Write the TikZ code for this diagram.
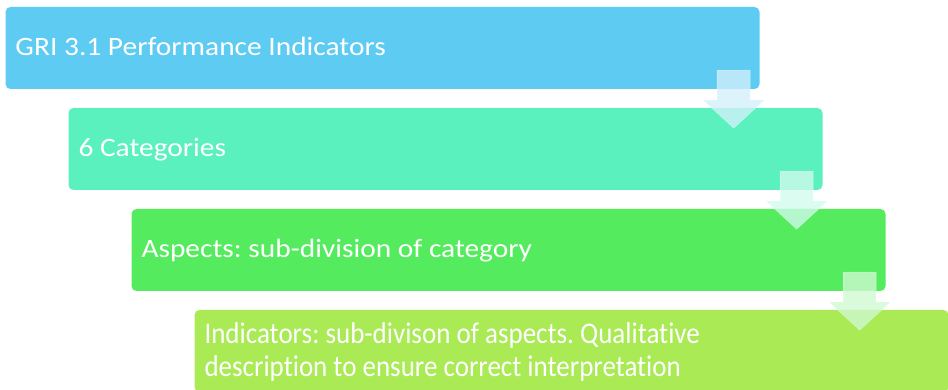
\documentclass[tikz,border=0pt]{standalone}
\usepackage{fontspec}
\setmainfont{Carlito}[Ligatures=NoCommon]
\newfontfamily\stagefont{Carlito}[Ligatures=NoCommon, FakeStretch=1.11]
\newfontfamily\indfont{Carlito}[Ligatures=NoCommon, FakeStretch=0.9]
\usepackage{xcolor}
\usepackage{tikz}
\usetikzlibrary{positioning}

\definecolor{griblue}{RGB}{93,203,242}
\definecolor{catmint}{RGB}{91,241,190}
\definecolor{aspgreen}{RGB}{85,235,95}
\definecolor{indlime}{RGB}{169,234,85}

\begin{document}
\frenchspacing
\begin{tikzpicture}[
  x=1pt, y=1pt,
  stage/.style={rectangle, rounded corners=5pt, minimum height=82pt,
    text width=734pt, inner xsep=10pt, inner ysep=0pt, align=flush left,
    text height=22pt, text depth=6pt,
    text=white, font=\stagefont\fontsize{26.5}{33}\selectfont},
  flowarrow/.style={fill opacity=0.78, draw=white, draw opacity=0.35, line width=0.6pt}
]
\useasboundingbox (0,0) rectangle (948,390);

% stages, each one step right and down
\node[stage, fill=griblue] (gri) at (382.5,342) {GRI 3.1 Performance Indicators};
\node[stage, fill=catmint] (cat) at ([xshift=63pt, yshift=-101pt]gri) {6 Categories};
\node[stage, fill=aspgreen] (asp) at ([xshift=63pt, yshift=-101pt]cat) {Aspects: sub-division of category};
\node[stage, fill=indlime, text depth=37pt, font=\indfont\fontsize{30}{33}\selectfont] (ind)
  at ([xshift=63pt, yshift=-101pt]asp)
  {Indicators: sub-divison of aspects. Qualitative\\description to ensure correct interpretation};

% down arrows between stages
\filldraw[flowarrow, fill=griblue!28!white] ([xshift=-26pt, yshift=19pt]gri.south east)
  ++(-16.5,0) -- ++(0,-30) -- ++(-14,0) -- ++(30.5,-28) -- ++(30.5,28) -- ++(-14,0) -- ++(0,30) -- cycle;
\filldraw[flowarrow, fill=catmint!28!white] ([xshift=-26pt, yshift=19pt]cat.south east)
  ++(-16.5,0) -- ++(0,-30) -- ++(-14,0) -- ++(30.5,-28) -- ++(30.5,28) -- ++(-14,0) -- ++(0,30) -- cycle;
\filldraw[flowarrow, fill=aspgreen!28!white] ([xshift=-26pt, yshift=19pt]asp.south east)
  ++(-16.5,0) -- ++(0,-30) -- ++(-14,0) -- ++(30.5,-28) -- ++(30.5,28) -- ++(-14,0) -- ++(0,30) -- cycle;
\end{tikzpicture}
\end{document}
